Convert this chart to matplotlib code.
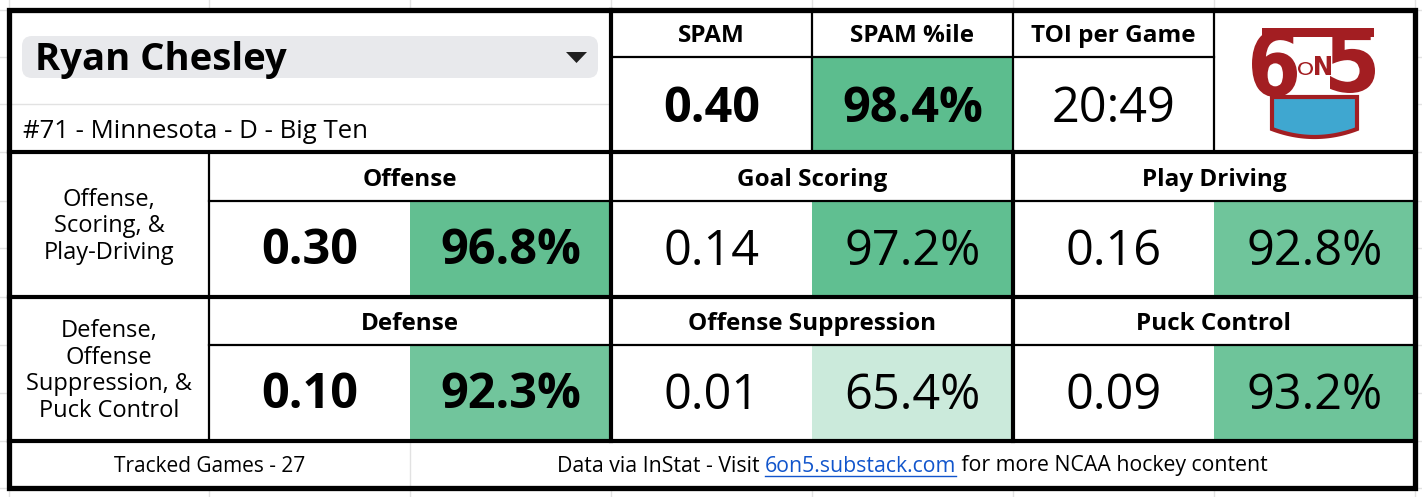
import numpy as np
import matplotlib.pyplot as plt
from matplotlib.patches import Rectangle, FancyBboxPatch, Polygon, PathPatch
from matplotlib.textpath import TextPath
from matplotlib.font_manager import FontProperties
from matplotlib.transforms import Affine2D

# player info
player = "Ryan Chesley"
info = "#71 - Minnesota - D - Big Ten"

# top row
top_labels = ["SPAM", "SPAM %ile", "TOI per Game"]
spam = 0.40
spam_pct = 98.4
toi = "20:49"

# category rows
row_labels = ["Offense,\nScoring, &\nPlay-Driving", "Defense,\nOffense\nSuppression, &\nPuck Control"]
cat_names = [["Offense", "Goal Scoring", "Play Driving"],
             ["Defense", "Offense Suppression", "Puck Control"]]
cat_values = [[0.30, 0.14, 0.16],
              [0.10, 0.01, 0.09]]
cat_pcts = [[96.8, 97.2, 92.8],
            [92.3, 65.4, 93.2]]

games = 27
footer_left = "Tracked Games - %d" % games
footer_a = "Data via InStat - Visit "
footer_link = "6on5.substack.com"
footer_b = " for more NCAA hockey content"

FONT = ["Open Sans", "DejaVu Sans"]
plt.rcParams['font.family'] = FONT


def pct_color(p):
    # sheets-style colour scale: white at 50, green at 100
    t = min(max((p - 50) / 50.0, 0), 1)
    lo = np.array([255, 255, 255])
    hi = np.array([87, 187, 138])
    return tuple((lo + (hi - lo) * t) / 255.0)


def glyph(ax, s, box, color, weight='bold'):
    # draw a glyph squeezed into box (x0, y0, x1, y1) in data coords (y down)
    fp = FontProperties(family='DejaVu Sans', weight=weight)
    p = TextPath((0, 0), s, size=100, prop=fp)
    ext = p.get_extents()
    x0, y0, x1, y1 = box
    sx = (x1 - x0) / ext.width
    sy = (y1 - y0) / ext.height
    tr = Affine2D().translate(-ext.x0, -ext.y1).scale(sx, -sy).translate(x0, y0)
    ax.add_patch(PathPatch(tr.transform_path(p), facecolor=color, edgecolor='none', zorder=4))


fig = plt.figure(figsize=(14.22, 4.97), dpi=100)
ax = fig.add_axes([0, 0, 1, 1])
ax.set_xlim(0, 1422)
ax.set_ylim(497, 0)
ax.axis('off')

cols = [9, 209, 410, 611, 812, 1013, 1214, 1415]
rows = [10, 57, 104, 152, 201, 248, 297, 345, 393, 441, 488]
L, R, T, B = 9, 1415, 10, 488

# spreadsheet gridlines behind
grid = '#e2e2e2'
for x in cols:
    ax.axvline(x, color=grid, lw=1, zorder=0)
for y in rows:
    ax.axhline(y, color=grid, lw=1, zorder=0)

ax.add_patch(Rectangle((L, T), R - L, B - T, facecolor='white', edgecolor='none', zorder=1))

# inner light lines
ax.plot([L, 611], [104, 104], color=grid, lw=1, zorder=2)
ax.plot([410, 410], [441, B], color=grid, lw=1, zorder=2)

# name dropdown
ax.add_patch(FancyBboxPatch((22, 36), 576, 42, boxstyle="round,pad=0,rounding_size=10",
                            facecolor='#e8e9ec', edgecolor='none', zorder=2, mutation_aspect=1))
ax.text(35, 60, player, fontsize=27.5, fontweight='bold', ha='left', va='center', zorder=3)
ax.add_patch(Polygon([[566, 52], [587, 52], [576.5, 63]], closed=True, facecolor='#202020',
                     edgecolor='none', zorder=3))
ax.text(23, 131, info, fontsize=18.5, ha='left', va='center', zorder=3)

# top stats
for i, lab in enumerate(top_labels):
    cx = (cols[3 + i] + cols[4 + i]) / 2
    ax.text(cx, 36, lab, fontsize=17.5, fontweight='bold', ha='center', va='center', zorder=3)
ax.add_patch(Rectangle((812, 57), 201, 95, facecolor=pct_color(spam_pct), edgecolor='none', zorder=2))
ax.text(711.5, 109, "%.2f" % spam, fontsize=35, fontweight='bold', ha='center', va='center', zorder=3)
ax.text(912.5, 109, "%.1f%%" % spam_pct, fontsize=35, fontweight='bold', ha='center', va='center', zorder=3)
ax.text(1113.5, 109, toi, fontsize=35, ha='center', va='center', zorder=3)

# category rows
sec = [(152, 201, 297), (297, 345, 441)]
for r in range(2):
    y0, ym, y1 = sec[r]
    ax.text(109, (y0 + y1) / 2 + 2, row_labels[r], fontsize=17, ha='center', va='center',
            linespacing=1.16, zorder=3)
    for c in range(3):
        x0 = cols[1 + 2 * c]
        xm = cols[2 + 2 * c]
        x1 = cols[3 + 2 * c]
        ax.add_patch(Rectangle((xm, ym), x1 - xm, y1 - ym, facecolor=pct_color(cat_pcts[r][c]),
                               edgecolor='none', zorder=2))
        ax.text((x0 + x1) / 2, (y0 + ym) / 2 + 3, cat_names[r][c], fontsize=17.5, fontweight='bold',
                ha='center', va='center', zorder=3)
        bold = 'bold' if c == 0 else 'normal'
        vy = (ym + y1) / 2 + 3
        ax.text((x0 + xm) / 2, vy, "%.2f" % cat_values[r][c], fontsize=35, fontweight=bold,
                ha='center', va='center', zorder=3)
        ax.text((xm + x1) / 2, vy, "%.1f%%" % cat_pcts[r][c], fontsize=35, fontweight=bold,
                ha='center', va='center', zorder=3)

# footer
fy = 466
ax.text(209.5, fy, footer_left, fontsize=15, ha='center', va='center', zorder=3)
fig.canvas.draw()
rend = fig.canvas.get_renderer()
parts = [(footer_a, 'black'), (footer_link, '#1155cc'), (footer_b, 'black')]
objs = []
for s, col in parts:
    objs.append(ax.text(0, fy, s, fontsize=15.3, ha='left', va='center', color=col, zorder=3))
widths = [o.get_window_extent(rend).width for o in objs]
tot = sum(widths)
x = 912.5 - tot / 2
for o, w in zip(objs, widths):
    o.set_x(x)
    x += w
lx0 = objs[1].get_position()[0]
ax.plot([lx0, lx0 + widths[1]], [fy + 10, fy + 10], color='#1155cc', lw=1, zorder=3)

# logo 6on5
red = '#a31e22'
blue = '#3fa7d0'
cup_x = np.linspace(1272, 1357, 40)
bottom = 129 + 8 * (1 - ((cup_x - 1314.5) / 42.5) ** 2)
cup = [[1272, 97], [1357, 97], [1357, 127]] + [[xx, yy] for xx, yy in zip(cup_x[::-1], bottom[::-1])] + [[1272, 127]]
ax.add_patch(Polygon(cup, closed=True, facecolor=blue, edgecolor=red, lw=3, zorder=3))
glyph(ax, "6", (1252, 29, 1297, 97), red)
glyph(ax, "5", (1330, 28, 1375, 93), red)
glyph(ax, "O", (1298, 62, 1313, 75), red, weight='normal')
glyph(ax, "N", (1315, 56, 1331, 75), red)
ax.add_patch(Rectangle((1262, 28), 112, 9, facecolor=red, edgecolor='none', zorder=4))

# black borders
thin, thick, outer = 1.6, 3.0, 3.8
k = 'black'
ax.plot([611, 1214], [57, 57], color=k, lw=thin, zorder=5)
for x in [812, 1013, 1214]:
    ax.plot([x, x], [T, 152], color=k, lw=thin, zorder=5)
ax.plot([611, 611], [T, 152], color=k, lw=thick, zorder=5)
for y in [152, 297, 441]:
    ax.plot([L, R], [y, y], color=k, lw=thick, zorder=5)
for y in [201, 345]:
    ax.plot([209, R], [y, y], color=k, lw=thin, zorder=5)
ax.plot([209, 209], [152, 441], color=k, lw=thin, zorder=5)
for x in [611, 1013]:
    ax.plot([x, x], [152, 441], color=k, lw=thick, zorder=5)
ax.add_patch(Rectangle((L, T), R - L, B - T, facecolor='none', edgecolor=k, lw=outer, zorder=6))

fig.savefig("out.png", dpi=100)
